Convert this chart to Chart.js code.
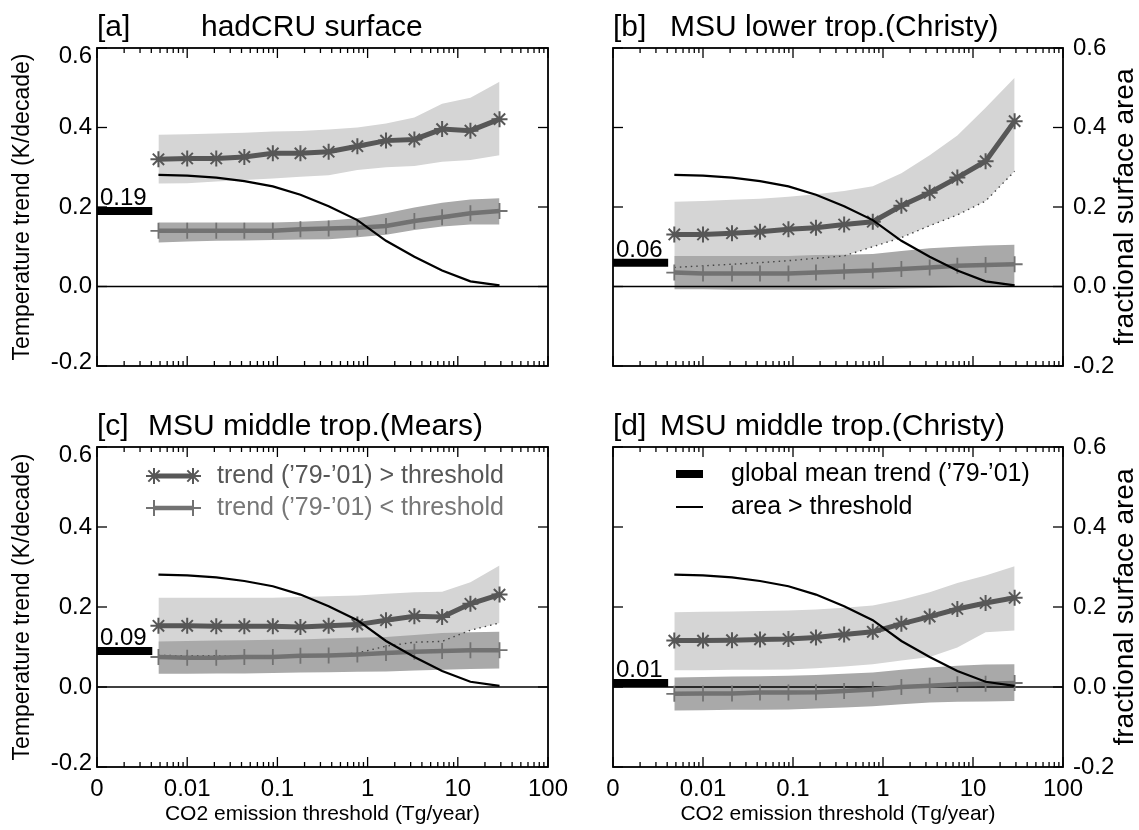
<!DOCTYPE html>
<html>
<head>
<meta charset="utf-8">
<script src="https://cdn.jsdelivr.net/npm/chart.js@4.4.1/dist/chart.umd.min.js"></script>
<style>
  body { margin: 0; background: #fff; width: 1139px; height: 830px; overflow: hidden; position: relative; }
  .panel { position: absolute; }
</style>
</head>
<body>
<div class="panel" style="left:0;top:0"><canvas id="chartA" width="570" height="400"></canvas></div>
<div class="panel" style="left:570px;top:0"><canvas id="chartB" width="569" height="400"></canvas></div>
<div class="panel" style="left:0;top:400px"><canvas id="chartC" width="570" height="430"></canvas></div>
<div class="panel" style="left:570px;top:400px"><canvas id="chartD" width="569" height="430"></canvas></div>

<script>
// =======================
// DATA
// =======================
// emission thresholds (Tg/year) where the markers sit
const thresholds = [0.0048, 0.01, 0.021, 0.043, 0.089, 0.18, 0.37, 0.77, 1.6, 3.3, 6.7, 13.8, 29];
// fractional surface area above threshold (same in every panel)
const areaAbove = [0.281, 0.279, 0.274, 0.265, 0.252, 0.231, 0.202, 0.167, 0.115, 0.075, 0.040, 0.013, 0.003];

// the "0" tick sits where 0.001 would be on the log axis
const xTickValues = [0.001, 0.01, 0.1, 1, 10, 100];
const xTickLabels = ['0', '0.01', '0.1', '1', '10', '100'];
const yTickValues = [-0.2, 0, 0.2, 0.4, 0.6];
const yTickLabels = ['-0.2', '0.0', '0.2', '0.4', '0.6'];
const barStart = 0.001;
const barEnd = 0.0041;

// [a] hadCRU surface
const meanA = 0.19;
const starA   = [0.320, 0.322, 0.322, 0.326, 0.335, 0.335, 0.339, 0.353, 0.367, 0.370, 0.396, 0.392, 0.421];
const starHiA = [0.382, 0.383, 0.385, 0.387, 0.390, 0.391, 0.395, 0.400, 0.410, 0.425, 0.460, 0.475, 0.515];
const starLoA = [0.259, 0.260, 0.264, 0.268, 0.272, 0.276, 0.280, 0.293, 0.300, 0.303, 0.314, 0.318, 0.330];
const plusA   = [0.140, 0.140, 0.140, 0.140, 0.140, 0.144, 0.146, 0.148, 0.152, 0.165, 0.174, 0.184, 0.190];
const plusHiA = [0.161, 0.161, 0.161, 0.161, 0.161, 0.163, 0.166, 0.172, 0.184, 0.199, 0.211, 0.219, 0.222];
const plusLoA = [0.111, 0.113, 0.115, 0.116, 0.117, 0.118, 0.119, 0.124, 0.130, 0.142, 0.151, 0.156, 0.156];

// [b] MSU lower trop. (Christy)
const meanB = 0.06;
const starB   = [0.131, 0.131, 0.134, 0.138, 0.144, 0.148, 0.156, 0.163, 0.203, 0.236, 0.274, 0.315, 0.416];
const starHiB = [0.213, 0.215, 0.218, 0.221, 0.226, 0.232, 0.240, 0.252, 0.285, 0.330, 0.380, 0.450, 0.525];
const starLoB = [0.048, 0.052, 0.056, 0.060, 0.065, 0.071, 0.077, 0.100, 0.123, 0.153, 0.180, 0.215, 0.290];
const plusB   = [0.035, 0.033, 0.033, 0.033, 0.033, 0.035, 0.038, 0.040, 0.044, 0.048, 0.052, 0.054, 0.056];
const plusHiB = [0.077, 0.077, 0.077, 0.077, 0.077, 0.079, 0.080, 0.082, 0.089, 0.096, 0.100, 0.103, 0.105];
const plusLoB = [-0.007, -0.007, -0.008, -0.008, -0.008, -0.008, -0.007, -0.007, -0.005, -0.004, -0.002, -0.001, 0.000];

// [c] MSU middle trop. (Mears)
const meanC = 0.09;
const starC   = [0.153, 0.153, 0.152, 0.152, 0.152, 0.150, 0.153, 0.156, 0.167, 0.177, 0.175, 0.208, 0.231];
const starHiC = [0.223, 0.223, 0.223, 0.223, 0.223, 0.225, 0.227, 0.229, 0.233, 0.237, 0.238, 0.262, 0.304];
const starLoC = [0.079, 0.078, 0.078, 0.077, 0.077, 0.077, 0.079, 0.085, 0.102, 0.112, 0.114, 0.142, 0.160];
const plusC   = [0.075, 0.073, 0.073, 0.075, 0.075, 0.078, 0.079, 0.081, 0.085, 0.088, 0.090, 0.092, 0.092];
const plusHiC = [0.114, 0.115, 0.116, 0.117, 0.118, 0.119, 0.121, 0.123, 0.125, 0.130, 0.135, 0.137, 0.138];
const plusLoC = [0.033, 0.033, 0.034, 0.034, 0.035, 0.036, 0.037, 0.038, 0.039, 0.041, 0.043, 0.045, 0.046];

// [d] MSU middle trop. (Christy)
const meanD = 0.01;
const starD   = [0.116, 0.116, 0.117, 0.119, 0.120, 0.124, 0.131, 0.138, 0.158, 0.176, 0.195, 0.210, 0.223];
const starHiD = [0.187, 0.188, 0.189, 0.190, 0.191, 0.194, 0.198, 0.204, 0.218, 0.237, 0.260, 0.279, 0.302];
const starLoD = [0.042, 0.042, 0.043, 0.043, 0.044, 0.047, 0.051, 0.057, 0.066, 0.075, 0.099, 0.137, 0.141];
const plusD   = [-0.017, -0.016, -0.016, -0.014, -0.014, -0.013, -0.010, -0.006, 0.000, 0.003, 0.007, 0.008, 0.010];
const plusHiD = [0.024, 0.025, 0.026, 0.027, 0.028, 0.030, 0.033, 0.036, 0.043, 0.049, 0.053, 0.056, 0.057];
const plusLoD = [-0.059, -0.058, -0.057, -0.057, -0.056, -0.054, -0.051, -0.048, -0.043, -0.039, -0.037, -0.036, -0.035];

// =======================
// STYLE
// =======================
const FONT = '"Liberation Sans", Arial, Helvetica, sans-serif';
const STAR_COLOR = '#575757';
const PLUS_COLOR = '#727272';
const LIGHT_BAND = '#d5d5d5';
const DARK_BAND = '#a9a9a9';
const NONE = 'rgba(0,0,0,0)';

Chart.defaults.font.family = FONT;
Chart.defaults.color = '#000';

function pts(ys) {
    return thresholds.map((t, i) => ({ x: Math.log10(t), y: ys[i] }));
}

function fmtY(v) {
    const i = yTickValues.findIndex(t => Math.abs(t - v) < 1e-9);
    return i >= 0 ? yTickLabels[i] : '';
}

// small marker helpers for the legend
function drawStar(ctx, x, y, r) {
    ctx.beginPath();
    for (let k = 0; k < 4; k++) {
        const a = k * Math.PI / 4;
        ctx.moveTo(x - r * Math.cos(a), y - r * Math.sin(a));
        ctx.lineTo(x + r * Math.cos(a), y + r * Math.sin(a));
    }
    ctx.stroke();
}
function drawCross(ctx, x, y, r) {
    ctx.beginPath();
    ctx.moveTo(x - r, y); ctx.lineTo(x + r, y);
    ctx.moveTo(x, y - r); ctx.lineTo(x, y + r);
    ctx.stroke();
}

// =======================
// FRAME + INWARD TICKS
// =======================
const frameTicks = {
    id: 'frameTicks',
    afterDatasetsDraw(chart) {
        const { ctx, chartArea: a, scales: { x, y } } = chart;
        ctx.save();
        ctx.strokeStyle = '#000';
        ctx.lineWidth = 1.8;
        ctx.strokeRect(a.left, a.top, a.right - a.left, a.bottom - a.top);
        ctx.lineWidth = 1.3;
        const tick = (x1, y1, x2, y2) => { ctx.beginPath(); ctx.moveTo(x1, y1); ctx.lineTo(x2, y2); ctx.stroke(); };
        xTickValues.forEach(v => {
            const px = x.getPixelForValue(Math.log10(v));
            tick(px, a.bottom, px, a.bottom - 10);
            tick(px, a.top, px, a.top + 10);
        });
        xTickValues.slice(0, -1).forEach(v => {
            for (let k = 2; k <= 9; k++) {
                const px = x.getPixelForValue(Math.log10(v * k));
                tick(px, a.bottom, px, a.bottom - 5);
                tick(px, a.top, px, a.top + 5);
            }
        });
        yTickValues.forEach(v => {
            const py = y.getPixelForValue(v);
            tick(a.left, py, a.left + 10, py);
            tick(a.right, py, a.right - 10, py);
        });
        ctx.restore();
    }
};

// =======================
// TEXT: TITLES, LABELS, LEGENDS
// =======================
const panelText = {
    id: 'panelText',
    afterDraw(chart) {
        const p = chart.options.plugins.panelText;
        const { ctx, chartArea: a, scales: { y } } = chart;
        ctx.save();
        ctx.fillStyle = '#000';
        ctx.textBaseline = 'alphabetic';
        ctx.textAlign = 'left';
        ctx.font = '30px ' + FONT;
        ctx.fillText(p.tag, a.left, a.top - 12);
        ctx.fillText(p.title, a.left + p.titleOffset, a.top - 12);

        // left tick labels, end ones pulled inside the frame a little
        if (p.leftLabels) {
            ctx.font = '24px ' + FONT;
            ctx.textAlign = 'right';
            ctx.textBaseline = 'middle';
            yTickValues.forEach((v, i) => {
                const nudge = i === yTickValues.length - 1 ? 8 : (i === 0 ? -4 : 0);
                ctx.fillText(yTickLabels[i], a.left - 5, y.getPixelForValue(v) + nudge);
            });
            ctx.textAlign = 'left';
            ctx.textBaseline = 'alphabetic';
        }

        // global mean value above the bar
        ctx.font = '24px ' + FONT;
        ctx.fillText(p.meanLabel, a.left + 3, y.getPixelForValue(p.mean) - 6);

        // right axis title reading upward
        if (p.rightTitle) {
            ctx.save();
            ctx.font = '28px ' + FONT;
            ctx.translate(chart.width - 14, (a.top + a.bottom) / 2);
            ctx.rotate(-Math.PI / 2);
            ctx.textAlign = 'center';
            ctx.textBaseline = 'middle';
            ctx.fillText(p.rightTitle, 0, 0);
            ctx.restore();
        }

        ctx.textBaseline = 'middle';
        ctx.font = '25px ' + FONT;
        if (p.legend === 'trend') {
            const y1 = a.top + 29, y2 = a.top + 61;
            const x1 = a.left + 57, x2 = a.left + 96;
            ctx.strokeStyle = STAR_COLOR; ctx.lineWidth = 5;
            ctx.beginPath(); ctx.moveTo(x1, y1); ctx.lineTo(x2, y1); ctx.stroke();
            ctx.lineWidth = 2;
            drawStar(ctx, x1, y1, 8); drawStar(ctx, x2, y1, 8);
            ctx.strokeStyle = PLUS_COLOR; ctx.lineWidth = 4.5;
            ctx.beginPath(); ctx.moveTo(x1, y2); ctx.lineTo(x2, y2); ctx.stroke();
            ctx.lineWidth = 2;
            drawCross(ctx, x1, y2, 8); drawCross(ctx, x2, y2, 8);
            ctx.fillStyle = STAR_COLOR;
            ctx.fillText("trend (\u201979-\u201901) > threshold", a.left + 120, y1);
            ctx.fillStyle = '#777777';
            ctx.fillText("trend (\u201979-\u201901) < threshold", a.left + 120, y2);
        }
        if (p.legend === 'mean') {
            const y1 = a.top + 27, y2 = a.top + 60;
            const x1 = a.left + 63, x2 = a.left + 90;
            ctx.strokeStyle = '#000';
            ctx.lineWidth = 8;
            ctx.beginPath(); ctx.moveTo(x1, y1); ctx.lineTo(x2, y1); ctx.stroke();
            ctx.lineWidth = 2;
            ctx.beginPath(); ctx.moveTo(x1, y2); ctx.lineTo(x2, y2); ctx.stroke();
            ctx.fillStyle = '#000';
            ctx.fillText("global mean trend (\u201979-\u201901)", a.left + 118, y1);
            ctx.fillText("area > threshold", a.left + 118, y2);
        }
        ctx.restore();
    }
};

// =======================
// BUILD ONE PANEL
// =======================
function makePanel(canvasId, p) {
    const datasets = [
        { label: 'area > threshold', data: pts(areaAbove), borderColor: '#000', borderWidth: 2.2, pointRadius: 0, order: 1 },
        { label: 'global mean', data: [{ x: Math.log10(barStart), y: p.mean }, { x: Math.log10(barEnd), y: p.mean }],
          borderColor: '#000', borderWidth: 8, borderCapStyle: 'butt', pointRadius: 0, order: 1 },
        { label: 'trend > threshold', data: pts(p.star), borderColor: STAR_COLOR, borderWidth: 5,
          pointStyle: 'star', pointRadius: 8, pointBorderWidth: 2, pointBorderColor: STAR_COLOR, pointBackgroundColor: STAR_COLOR, order: 2 },
        { label: 'trend < threshold', data: pts(p.plus), borderColor: PLUS_COLOR, borderWidth: 4.5,
          pointStyle: 'cross', pointRadius: 8, pointBorderWidth: 1.8, pointBorderColor: PLUS_COLOR, pointBackgroundColor: PLUS_COLOR, order: 3 },
        { label: 'zero', data: [{ x: -3, y: 0 }, { x: 2, y: 0 }], borderColor: '#000', borderWidth: 1.3, pointRadius: 0, order: 4 },
        { label: 'lower bound', data: pts(p.starLo), borderColor: p.dotted ? '#444' : NONE, borderWidth: 1.4,
          borderDash: [1.5, 4], pointRadius: 0, order: 5 },
        { label: 'plus hi', data: pts(p.plusHi), borderColor: NONE, borderWidth: 0, pointRadius: 0,
          backgroundColor: DARK_BAND, fill: '+1', order: 6 },
        { label: 'plus lo', data: pts(p.plusLo), borderColor: NONE, borderWidth: 0, pointRadius: 0, fill: false, order: 7 },
        { label: 'star hi', data: pts(p.starHi), borderColor: NONE, borderWidth: 0, pointRadius: 0,
          backgroundColor: LIGHT_BAND, fill: '+1', order: 8 },
        { label: 'star lo', data: pts(p.starLo), borderColor: NONE, borderWidth: 0, pointRadius: 0, fill: false, order: 9 }
    ];

    const tickFont = { size: 24, family: FONT };
    const scales = {
        x: {
            type: 'linear', min: -3, max: 2,
            afterBuildTicks: s => { s.ticks = xTickValues.map(v => ({ value: Math.log10(v) })); },
            ticks: { display: p.bottom, callback: (v, i) => xTickLabels[i], font: tickFont, color: '#000',
                     padding: 0, maxRotation: 0, autoSkip: false },
            grid: { display: false }, border: { display: false },
            title: { display: p.bottom, text: 'CO2 emission threshold (Tg/year)', font: { size: 21, family: FONT },
                     color: '#000', padding: { top: 0, bottom: 3 } },
            afterFit: s => { s.height = p.bottom ? 63 : 0; }
        },
        y: {
            type: 'linear', position: 'left', min: -0.2, max: 0.6,
            afterBuildTicks: s => { s.ticks = yTickValues.map(v => ({ value: v })); },
            ticks: { display: false },
            grid: { display: false }, border: { display: false },
            title: { display: !p.right, text: 'Temperature trend (K/decade)', font: { size: 23, family: FONT },
                     color: '#000', padding: { top: 9, bottom: 0 } },
            afterFit: s => { s.width = p.right ? 43 : 97; }
        }
    };
    if (p.right) {
        scales.yR = {
            type: 'linear', position: 'right', min: -0.2, max: 0.6,
            afterBuildTicks: s => { s.ticks = yTickValues.map(v => ({ value: v })); },
            ticks: { callback: v => fmtY(v), font: tickFont, color: '#000', padding: 2 },
            grid: { display: false }, border: { display: false },
            afterFit: s => { s.width = 76; }
        };
    }

    return new Chart(document.getElementById(canvasId), {
        type: 'line',
        data: { datasets },
        options: {
            responsive: false,
            animation: false,
            events: [],
            layout: { padding: { top: p.bottom ? 47 : 48, bottom: p.bottom ? 0 : 34, left: 0, right: p.right ? 0 : 22 } },
            elements: { line: { tension: 0 } },
            scales,
            plugins: {
                legend: { display: false },
                tooltip: { enabled: false },
                panelText: {
                    tag: p.tag, title: p.title, titleOffset: p.titleOffset,
                    mean: p.mean, meanLabel: p.mean.toFixed(2),
                    leftLabels: !p.right,
                    rightTitle: p.right ? 'fractional surface area' : null,
                    legend: p.legend
                }
            }
        },
        plugins: [frameTicks, panelText]
    });
}

// =======================
// INIT
// =======================
makePanel('chartA', { tag: '[a]', title: 'hadCRU surface', titleOffset: 104, mean: meanA,
    star: starA, starHi: starHiA, starLo: starLoA, plus: plusA, plusHi: plusHiA, plusLo: plusLoA,
    dotted: false, right: false, bottom: false, legend: null });
makePanel('chartB', { tag: '[b]', title: 'MSU lower trop.(Christy)', titleOffset: 57, mean: meanB,
    star: starB, starHi: starHiB, starLo: starLoB, plus: plusB, plusHi: plusHiB, plusLo: plusLoB,
    dotted: true, right: true, bottom: false, legend: null });
makePanel('chartC', { tag: '[c]', title: 'MSU middle trop.(Mears)', titleOffset: 51, mean: meanC,
    star: starC, starHi: starHiC, starLo: starLoC, plus: plusC, plusHi: plusHiC, plusLo: plusLoC,
    dotted: true, right: false, bottom: true, legend: 'trend' });
makePanel('chartD', { tag: '[d]', title: 'MSU middle trop.(Christy)', titleOffset: 47, mean: meanD,
    star: starD, starHi: starHiD, starLo: starLoD, plus: plusD, plusHi: plusHiD, plusLo: plusLoD,
    dotted: false, right: true, bottom: true, legend: 'mean' });
</script>
</body>
</html>
